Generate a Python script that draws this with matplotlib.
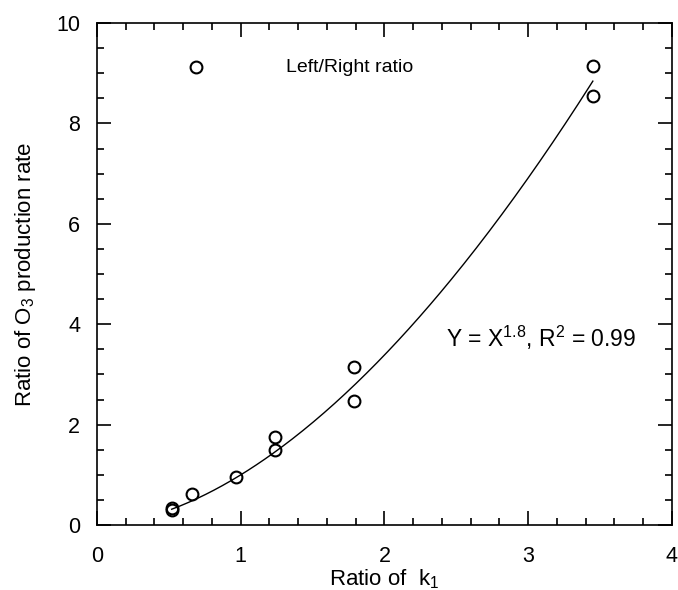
import numpy as np
import matplotlib
matplotlib.use('Agg')
import matplotlib.pyplot as plt
from matplotlib.ticker import MultipleLocator

plt.rcParams['font.family'] = ['Liberation Sans', 'DejaVu Sans']
plt.rcParams['mathtext.fontset'] = 'custom'
plt.rcParams['mathtext.rm'] = 'Liberation Sans'
plt.rcParams['mathtext.default'] = 'regular'

# measured points (ratio of k1 vs ratio of O3 production rate)
k_ratio = [0.52, 0.52, 0.66, 0.97, 1.24, 1.24, 1.79, 1.79, 3.45, 3.45, 0.69]
o3_ratio = [0.35, 0.30, 0.62, 0.96, 1.75, 1.49, 3.15, 2.47, 9.15, 8.55, 9.12]

# power-law fit Y = a * X^b
fit_a = 1.0
fit_b = 1.76
fit_x_range = [0.52, 3.45]

fig = plt.figure(figsize=(6.78, 5.9), dpi=100)
ax = fig.add_axes([0.143, 0.110, 0.848, 0.851])

xs = np.linspace(fit_x_range[0], fit_x_range[1], 200)
ax.plot(xs, fit_a * xs ** fit_b, color='black', lw=1.0)
ax.plot(k_ratio, o3_ratio, 'o', mfc='none', mec='black', mew=1.5, ms=8.5, clip_on=False)

ax.text(1.76, 9.12, 'Left/Right ratio', fontsize=14, ha='center', va='center')
ax.text(2.43, 3.73, 'Y = X$^{1.8}$, R$^{2}$ = 0.99', fontsize=16.5, ha='left', va='center')

ax.set_xlim(0, 4)
ax.set_ylim(0, 10)
ax.xaxis.set_major_locator(MultipleLocator(1))
ax.xaxis.set_minor_locator(MultipleLocator(0.2))
ax.yaxis.set_major_locator(MultipleLocator(2))
ax.yaxis.set_minor_locator(MultipleLocator(0.5))
ax.tick_params(which='both', direction='in', top=True, right=True, width=1.2)
ax.tick_params(which='major', length=10, labelsize=15.5)
ax.tick_params(axis='x', which='major', pad=15)
ax.tick_params(axis='y', which='major', pad=12)
ax.tick_params(which='minor', length=5)
for s in ax.spines.values():
    s.set_linewidth(1.2)

ax.set_xlabel('Ratio of  k$_1$', fontsize=16, labelpad=0)
ax.set_ylabel('Ratio of O$_3$ production rate', fontsize=16, labelpad=13)

fig.savefig('out.png', dpi=100)
